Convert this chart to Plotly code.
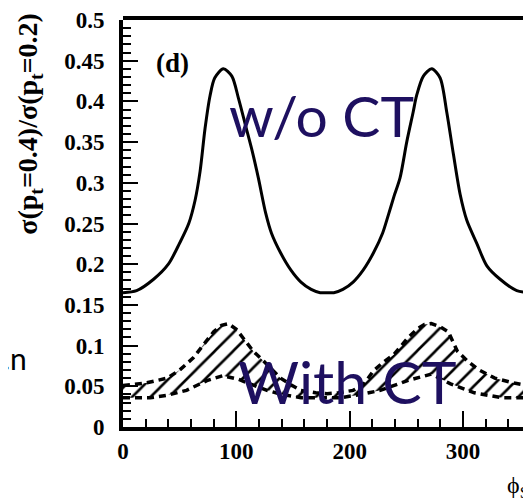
import plotly.graph_objects as go

# --- data ---
phi_wo = [0, 12, 27, 40, 50, 58, 63.5, 68, 72.4, 76.8, 81, 88.5, 96, 102, 108, 114, 119.4, 126, 131, 139, 148,
          157, 166, 174, 180,
          186, 194, 203, 212, 221, 229, 234, 239, 244.4, 250.3, 256, 259, 265, 272.4, 279.7, 285.6, 291.5,
          297.4, 303.3, 312, 321, 332.7, 347.4, 361]
val_wo = [0.165, 0.1675, 0.1815, 0.2, 0.226, 0.25, 0.278, 0.314, 0.367, 0.407, 0.429, 0.44, 0.431, 0.403, 0.371,
          0.339, 0.306, 0.262, 0.238, 0.214, 0.193, 0.178, 0.169, 0.165, 0.165,
          0.165, 0.169, 0.178, 0.193, 0.214, 0.238, 0.26, 0.283, 0.306, 0.35, 0.387, 0.407, 0.431, 0.44, 0.429,
          0.387, 0.335, 0.286, 0.254, 0.226, 0.198, 0.1815, 0.1675, 0.165]

phi_up = [0, 20, 39, 50, 62, 72, 80, 87, 93, 100, 108, 115, 124, 133, 139, 148, 157, 170, 180, 190, 203, 212,
          221, 230, 239, 251, 260, 266, 272, 280, 287, 295, 304, 313, 328, 345, 361]
val_up = [0.051, 0.054, 0.06, 0.07, 0.085, 0.102, 0.117, 0.125, 0.127, 0.12, 0.105, 0.093, 0.081, 0.069, 0.06,
          0.052, 0.045, 0.042, 0.041, 0.042, 0.045, 0.052, 0.069, 0.08, 0.089, 0.109, 0.121, 0.126, 0.127, 0.123,
          0.117, 0.093, 0.081, 0.071, 0.06, 0.054, 0.05]

phi_lo = [0, 24, 39, 56, 74, 88, 101, 112, 127, 140, 157, 192, 210, 227, 251, 272, 289, 310, 334, 361]
val_lo = [0.036, 0.036, 0.039, 0.045, 0.057, 0.063, 0.059, 0.053, 0.045, 0.04, 0.036, 0.036, 0.04, 0.045, 0.057,
          0.065, 0.053, 0.042, 0.036, 0.036]

y_ticks = [0, 0.05, 0.1, 0.15, 0.2, 0.25, 0.3, 0.35, 0.4, 0.45, 0.5]
y_tick_text = ["0", "0.05", "0.1", "0.15", "0.2", "0.25", "0.3", "0.35", "0.4", "0.45", "0.5"]
x_ticks = [0, 100, 200, 300]
x_tick_text = ["0", "100", "200", "300"]

SERIF = "Times New Roman, Liberation Serif, serif"
NAVY = "#1e1060"

fig = go.Figure()

# lower dashed boundary
fig.add_trace(go.Scatter(x=phi_lo, y=val_lo, mode="lines",
                         line=dict(color="black", width=3.5, dash="7px,5px"),
                         showlegend=False, hoverinfo="skip"))
# upper dashed boundary, hatched to lower
fig.add_trace(go.Scatter(x=phi_up, y=val_up, mode="lines",
                         line=dict(color="black", width=3.5, dash="7px,5px"),
                         fill="tonexty", fillcolor="rgba(0,0,0,0)",
                         fillpattern=dict(shape="/", fgcolor="black", fgopacity=1,
                                          bgcolor="rgba(0,0,0,0)", size=13, solidity=0.2),
                         showlegend=False, hoverinfo="skip"))
# w/o CT solid curve
fig.add_trace(go.Scatter(x=phi_wo, y=val_wo, mode="lines", line_shape="spline",
                         line=dict(color="black", width=3, smoothing=0.8),
                         showlegend=False, hoverinfo="skip"))

fig.update_layout(
    width=531, height=502,
    margin=dict(l=115, r=0, t=5, b=83),
    paper_bgcolor="white", plot_bgcolor="white",
    xaxis=dict(range=[0, 367], showgrid=False, zeroline=False,
               showline=True, linecolor="black", linewidth=4,
               ticks="inside", ticklen=16, tickwidth=1.5, tickcolor="black",
               tickvals=x_ticks, ticktext=x_tick_text,
               minor=dict(dtick=20, ticks="inside", ticklen=8, tickwidth=1.5, tickcolor="black"),
               tickfont=dict(family=SERIF, size=23, color="black", weight="bold")),
    yaxis=dict(range=[0, 0.5], showgrid=False, zeroline=False,
               showline=True, linecolor="black", linewidth=4,
               ticks="inside", ticklen=15, tickwidth=1.5, tickcolor="black",
               tickvals=y_ticks, ticktext=y_tick_text, ticklabeloverflow="allow",
               minor=dict(dtick=0.01, ticks="inside", ticklen=8, tickwidth=1.5, tickcolor="black"),
               tickfont=dict(family=SERIF, size=23, color="black", weight="bold"),
               ticklabelstandoff=10),
)

# top frame line
fig.add_shape(type="line", xref="paper", yref="paper", x0=0, x1=1, y0=1.005, y1=1.005,
              line=dict(color="black", width=4))

ann = dict(xref="paper", yref="paper", showarrow=False, xanchor="center", yanchor="middle")
fig.add_annotation(text="<b>σ(p<sub>t</sub>=0.4)/σ(p<sub>t</sub>=0.2)</b>", textangle=-90,
                   x=-0.2236, y=0.745, font=dict(family=SERIF, size=28, color="black"), **ann)
fig.add_annotation(text="<b>(d)</b>", x=0.1178, y=0.8945,
                   font=dict(family=SERIF, size=27, color="black"), **ann)
fig.add_annotation(text="w/o CT", x=0.478, y=0.766,
                   font=dict(family="Lato", size=57, color=NAVY), **ann)
fig.add_annotation(text="With CT", x=0.538, y=0.113,
                   font=dict(family="Lato", size=59, color=NAVY), **ann)
fig.add_annotation(text=".n", x=-0.226, y=0.169, xref="paper", yref="paper", showarrow=False,
                   xanchor="right", yanchor="middle",
                   font=dict(family="Lato", size=30, color="black"))
fig.add_annotation(text="ϕ<sub>S</sub>", x=0.918, y=-0.147, xref="paper", yref="paper", showarrow=False,
                   xanchor="left", yanchor="middle",
                   font=dict(family=SERIF, size=24, color="black"))

fig.write_html("out.html")
